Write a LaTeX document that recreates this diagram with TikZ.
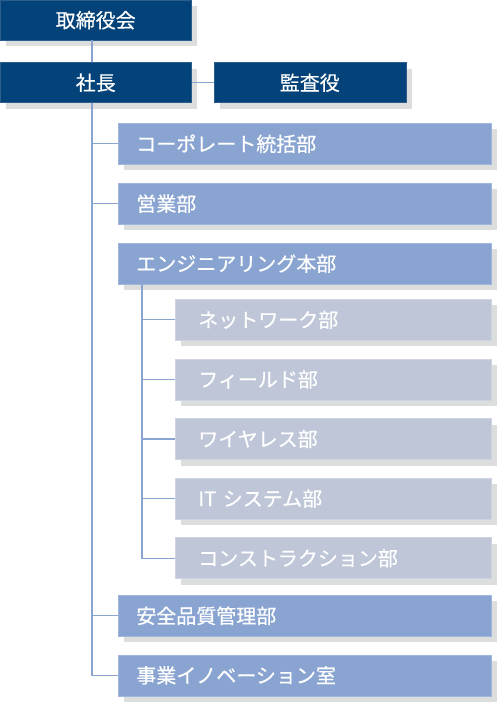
\documentclass[tikz,border=0pt]{standalone}
\usepackage{fontspec}
\setmainfont{Noto Sans CJK JP}
\newfontfamily\orgfont{Noto Sans CJK JP}[FakeBold=0.5]
\usetikzlibrary{positioning,shadows}
\definecolor{navy}{HTML}{044379}
\definecolor{midblue}{HTML}{8AA4D2}
\definecolor{paleblue}{HTML}{BFC6D8}
\definecolor{shade}{HTML}{DCDDDD}
\tikzset{
  topblk/.style={fill=navy, draw=navy!85!white, line width=0.5pt, rectangle, minimum width=191pt, minimum height=40pt, inner sep=0pt, align=center, text=white, font=\orgfont\fontsize{20}{23}\selectfont, drop shadow={shadow xshift=6pt, shadow yshift=-6pt, fill=shade, opacity=1}},
  deptblk/.style={fill=midblue, draw=midblue!80!white, line width=0.6pt, rectangle, minimum height=41pt, text width=337pt, inner xsep=18pt, inner ysep=0pt, align=left, text=white, font=\orgfont\fontsize{20}{23}\selectfont, drop shadow={shadow xshift=6pt, shadow yshift=-6pt, fill=shade, opacity=1}},
  subblk/.style={fill=paleblue, draw=paleblue!75!white, line width=0.6pt, rectangle, minimum height=41pt, text width=270pt, inner xsep=23pt, inner ysep=0pt, align=left, text=white, font=\orgfont\fontsize{20}{23}\selectfont, drop shadow={shadow xshift=6pt, shadow yshift=-6pt, fill=shade, opacity=1}},
  link/.style={draw=midblue, line width=1.2pt},
}
\begin{document}
\begin{tikzpicture}[x=1pt, y=-1pt]
\useasboundingbox (0,0) rectangle (496,706);

\node[topblk, anchor=north west] (board) at (0,0) {取締役会};
\node[topblk, below=22pt of board] (ceo) {社長};
\node[topblk, right=22pt of ceo, minimum width=192pt] (audit) {監査役};

\node[deptblk, anchor=north west] (corp) at (118,123) {コーポレート統括部};
\node[deptblk, below=18.3pt of corp] (sales) {営業部};
\node[deptblk, below=18.3pt of sales] (eng) {エンジニアリング本部};

\node[subblk, anchor=north west] (net) at (175,299) {ネットワーク部};
\node[subblk, below=18pt of net] (field) {フィールド部};
\node[subblk, below=18pt of field] (wireless) {ワイヤレス部};
\node[subblk, below=18pt of wireless] (itsys) {IT システム部};
\node[subblk, below=18pt of itsys] (constr) {コンストラクション部};

\node[deptblk, anchor=north west] (safety) at (118,595) {安全品質管理部};
\node[deptblk, below=18pt of safety] (innov) {事業イノベーション室};

% trunk lines
\coordinate (trunk) at (92,0);
\coordinate (subtrunk) at (142,0);

\draw[link] (board.south -| trunk) -- (ceo.north -| trunk);
\draw[link] (ceo) -- (audit);
\draw[link] (ceo.south -| trunk) |- (innov.west);
\draw[link] (trunk |- corp.west) -- (corp.west);
\draw[link] (trunk |- sales.west) -- (sales.west);
\draw[link] (trunk |- safety.west) -- (safety.west);

\draw[link] (eng.south -| subtrunk) |- (constr.west);
\draw[link] (subtrunk |- net.west) -- (net.west);
\draw[link] (subtrunk |- field.west) -- (field.west);
\draw[link] (subtrunk |- wireless.west) -- (wireless.west);
\draw[link] (subtrunk |- itsys.west) -- (itsys.west);

\end{tikzpicture}
\end{document}
